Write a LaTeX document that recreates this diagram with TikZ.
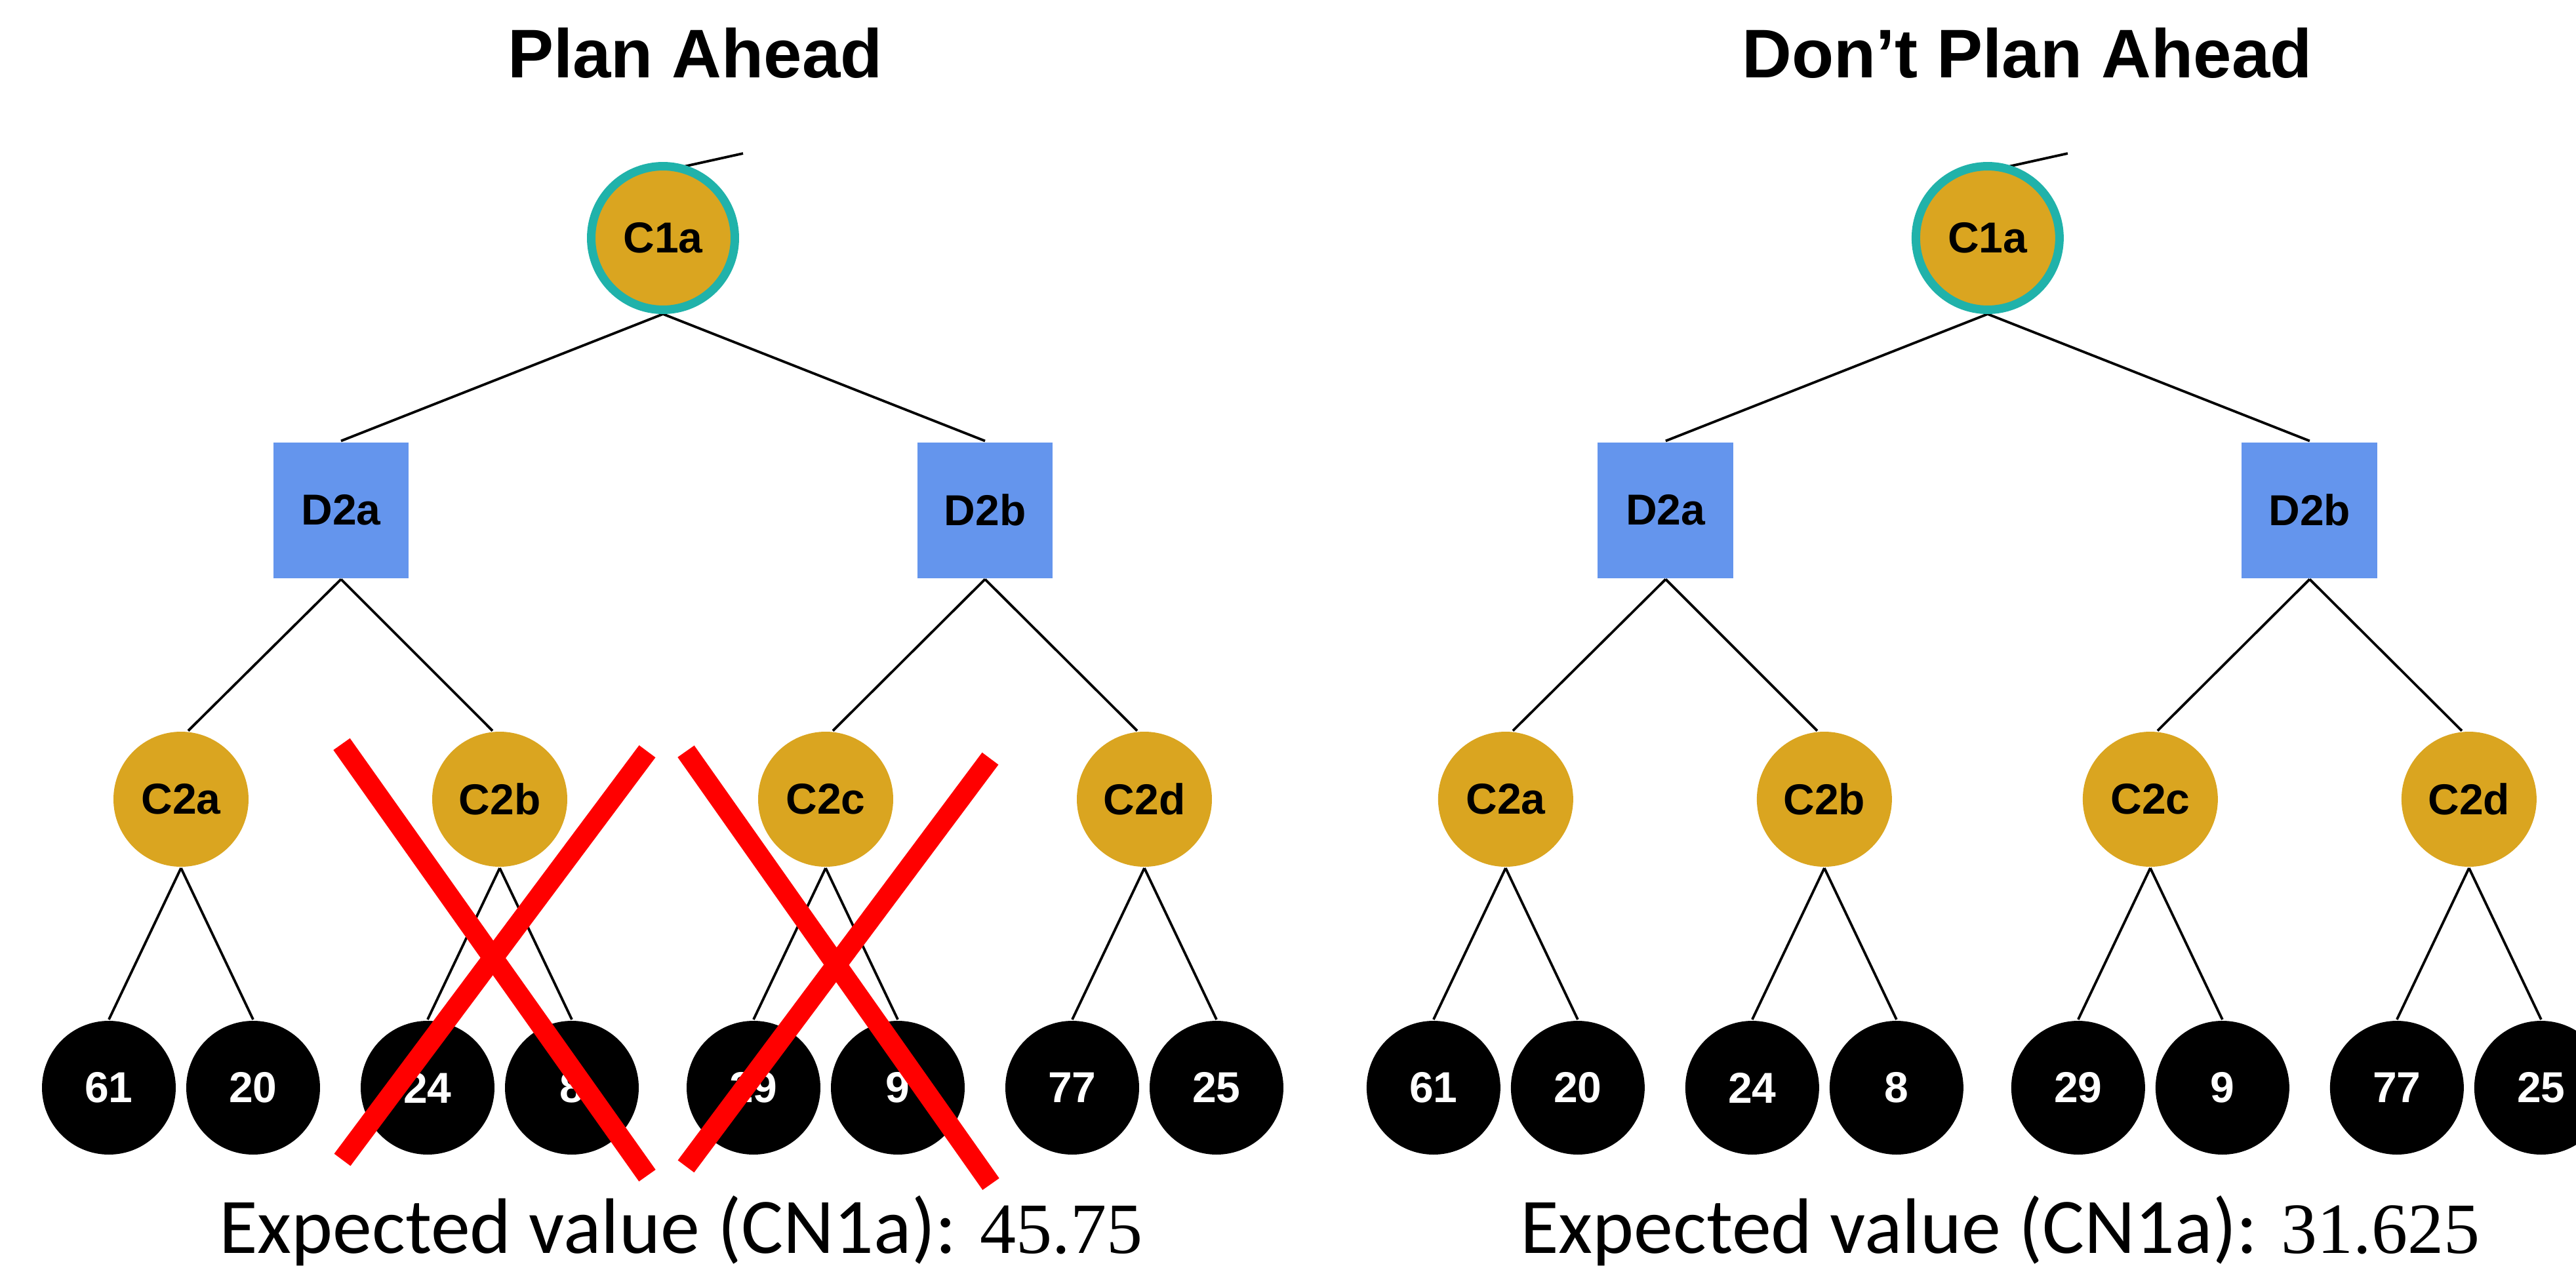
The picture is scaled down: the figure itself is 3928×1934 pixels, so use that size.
\documentclass[tikz,border=0pt]{standalone}
\usepackage{fontspec}
\usetikzlibrary{backgrounds}
\newfontfamily\arialfont{Liberation Sans}
\newfontfamily\calfont{Carlito}
\newfontfamily\serfont{Liberation Serif}

\definecolor{cgold}{HTML}{DAA520}
\definecolor{cblue}{HTML}{6495ED}
\definecolor{cteal}{HTML}{20B2AA}

\tikzset{
  lbl/.style={font=\arialfont\bfseries\fontsize{6.6pt}{7pt}\selectfont},
  chance/.style={circle, fill=cgold, minimum size=20.6pt, inner sep=0pt, lbl},
  rootnode/.style={chance, draw=cteal, line width=1.3pt, minimum size=21.9pt},
  decision/.style={rectangle, fill=cblue, minimum size=20.7pt, inner sep=0pt, lbl},
  leaf/.style={circle, fill=black, minimum size=20.4pt, inner sep=0pt, text=white, lbl},
  edge/.style={draw=black, line width=0.38pt},
  cross/.style={draw=red, line width=3.1pt},
  title/.style={font=\arialfont\bfseries\fontsize{10.5pt}{12pt}\selectfont, anchor=base, inner sep=0pt},
  result/.style={font=\calfont\fontsize{12pt}{14pt}\selectfont, anchor=base west, inner sep=0pt}
}

% One decision tree; #1 = name prefix, #2 = horizontal offset
\newcommand\planetree[2]{%
  \begin{scope}[xshift=#2]
    \node[rootnode] (#1C1a) at (1011,363) {C1a};
    \node[decision] (#1D2a) at (520,778) {D2a};
    \node[decision] (#1D2b) at (1502,778) {D2b};
    \node[chance] (#1C2a) at (276,1219) {C2a};
    \node[chance] (#1C2b) at (762,1219) {C2b};
    \node[chance] (#1C2c) at (1259,1219) {C2c};
    \node[chance] (#1C2d) at (1745,1219) {C2d};
    \node[leaf] (#1L1) at (166,1659) {61};
    \node[leaf] (#1L2) at (386,1659) {20};
    \node[leaf] (#1L3) at (652,1659) {24};
    \node[leaf] (#1L4) at (872,1659) {8};
    \node[leaf] (#1L5) at (1149,1659) {29};
    \node[leaf] (#1L6) at (1369,1659) {9};
    \node[leaf] (#1L7) at (1635,1659) {77};
    \node[leaf] (#1L8) at (1855,1659) {25};
    \coordinate (#1up) at (1133,234);
    \begin{scope}[on background layer]
      \draw[edge] ([yshift=-1.4pt]#1C1a.north) -- (#1up);
      \draw[edge] (#1C1a.south) -- (#1D2a.north);
      \draw[edge] (#1C1a.south) -- (#1D2b.north);
      \draw[edge] (#1D2a.south) -- (#1C2a.84);
      \draw[edge] (#1D2a.south) -- (#1C2b.96);
      \draw[edge] (#1D2b.south) -- (#1C2c.84);
      \draw[edge] (#1D2b.south) -- (#1C2d.96);
      \draw[edge] (#1C2a.south) -- (#1L1.north);
      \draw[edge] (#1C2a.south) -- (#1L2.north);
      \draw[edge] (#1C2b.south) -- (#1L3.north);
      \draw[edge] (#1C2b.south) -- (#1L4.north);
      \draw[edge] (#1C2c.south) -- (#1L5.north);
      \draw[edge] (#1C2c.south) -- (#1L6.north);
      \draw[edge] (#1C2d.south) -- (#1L7.north);
      \draw[edge] (#1C2d.south) -- (#1L8.north);
    \end{scope}
  \end{scope}%
}

\begin{document}
\begin{tikzpicture}[x=0.1pt, y=-0.1pt]
  \useasboundingbox (0,0) rectangle (3928,1934);
  \clip (0,0) rectangle (3928,1934);

  \node[title] (tleft) at (1060,118) {Plan Ahead};
  \node[title] (tright) at (3091,118) {Don’t Plan Ahead};

  \planetree{A}{0pt}
  \planetree{B}{202pt}

  % pruned branches
  \coordinate (x1a) at (521,1135);  \coordinate (x1b) at (987,1793);
  \coordinate (x1c) at (987,1146);  \coordinate (x1d) at (522,1769);
  \coordinate (x2a) at (1046,1146); \coordinate (x2b) at (1511,1806);
  \coordinate (x2c) at (1510,1157); \coordinate (x2d) at (1046,1779);
  \draw[cross] (x1a) -- (x1b);
  \draw[cross] (x1c) -- (x1d);
  \draw[cross] (x2a) -- (x2b);
  \draw[cross] (x2c) -- (x2d);

  \node[result] (evleft) at (332,1911)
    {Expected value (CN1a): {\serfont\fontsize{11pt}{13pt}\selectfont 45.75}};
  \node[result] (evright) at (2316,1911)
    {Expected value (CN1a): {\serfont\fontsize{11pt}{13pt}\selectfont 31.625}};
\end{tikzpicture}
\end{document}
